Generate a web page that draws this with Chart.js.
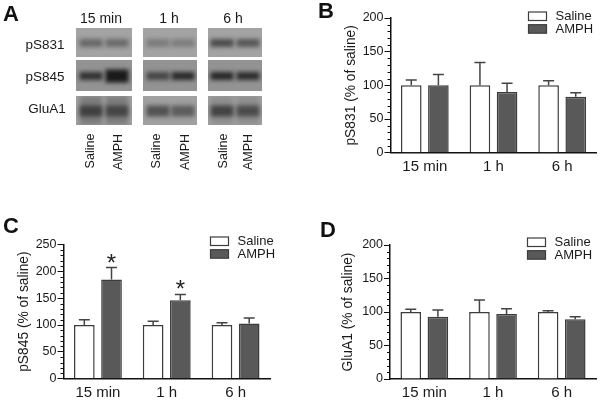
<!DOCTYPE html>
<html>
<head>
<meta charset="utf-8">
<title>GluA1 phosphorylation</title>
<script src="https://cdn.jsdelivr.net/npm/chart.js@4"></script>
<style>
    html, body { margin: 0; padding: 0; background: #fff; }
    #page { position: relative; width: 600px; height: 400px; overflow: hidden; font-family: "Liberation Sans", Arial, sans-serif; color: #1a1a1a; }
    #page canvas { position: absolute; }
    .letter { position: absolute; font-size: 22px; font-weight: bold; color: #111; line-height: 22px; }
    .blot-text { position: absolute; white-space: nowrap; line-height: 14px; transform: translate(-50%, -50%); }
    .lane-text { position: absolute; white-space: nowrap; font-size: 12.5px; line-height: 14px; transform: translate(-50%, -50%) rotate(-90deg); }
</style>
</head>
<body>
<div id="page">
    <canvas id="blots" width="300" height="200" style="left:0;top:0"></canvas>
    <canvas id="chartB" width="300" height="200" style="left:300px;top:0"></canvas>
    <canvas id="chartC" width="300" height="200" style="left:0;top:200px"></canvas>
    <canvas id="chartD" width="300" height="200" style="left:300px;top:200px"></canvas>
</div>
<script>
const categories = ['15 min', '1 h', '6 h'];
const seriesNames = ['Saline', 'AMPH'];

// bar heights and the top of each error bar
const salineB = [100, 100, 100];
const amphB = [100, 90, 83];
const salineTopB = [108, 134, 107];
const amphTopB = [116, 103, 89];

const salineC = [100, 100, 100];
const amphC = [185, 146, 103];
const salineTopC = [110, 107, 104];
const amphTopC = [207, 157, 113];
const starsC = [true, true, false];

const salineD = [100, 100, 100];
const amphD = [93, 97, 89];
const salineTopD = [104, 118, 102];
const amphTopD = [103, 105, 93];

// panel A, the blot
const blotRows = ['pS831', 'pS845', 'GluA1'];
const bandDark = [
    [0.42, 0.40, 0.28, 0.26, 0.62, 0.55],
    [0.80, 1.00, 0.62, 0.85, 0.88, 0.84],
    [0.62, 0.56, 0.58, 0.50, 0.64, 0.58]
];

const axisColor = '#111';
const salineFill = '#ffffff';
const amphFill = '#595959';
const barEdge = '#3c3c3c';

function drawBlots() {
    const ctx = document.getElementById('blots').getContext('2d');
    const panels = [[76, 132, [91, 117]], [143, 197, [158, 183]], [208, 262, [222, 248]]];
    const rows = [
        { top: 28, bottom: 57, band: 43, h: 8, bg: '#a3a3a3' },
        { top: 60, bottom: 91, band: 76, h: 8, bg: '#939393' },
        { top: 96, bottom: 125, band: 111, h: 11, bg: '#a0a0a0' }
    ];
    rows.forEach((row, r) => {
        panels.forEach((panel, p) => {
            ctx.save();
            ctx.beginPath();
            ctx.rect(panel[0], row.top, panel[1] - panel[0], row.bottom - row.top);
            ctx.clip();
            ctx.fillStyle = row.bg;
            ctx.fillRect(panel[0], row.top, panel[1] - panel[0], row.bottom - row.top);
            ctx.filter = 'blur(2px)';
            panel[2].forEach((cx, l) => {
                const dark = bandDark[r][p * 2 + l];
                const h = row.h + (dark > 0.9 ? 5 : 0);
                ctx.fillStyle = 'rgba(25,25,25,' + dark + ')';
                ctx.fillRect(cx - 11.5, row.band - h / 2, 23, h);
                // the GluA1 row smears up and down in the 15 min and 6 h lanes
                if (r === 2 && p !== 1) {
                    ctx.fillStyle = 'rgba(25,25,25,' + (p === 0 ? 0.25 : 0.12) + ')';
                    ctx.fillRect(cx - 11, row.top, 22, row.bottom - row.top);
                }
            });
            ctx.restore();
        });
    });

    const page = document.getElementById('page');
    const rowLabelY = [45, 77, 109];
    blotRows.forEach((name, i) => {
        const el = document.createElement('div');
        el.className = 'blot-text';
        el.style.cssText = 'left:' + (i === 2 ? 47 : 45) + 'px;top:' + rowLabelY[i] + 'px;font-size:13.5px';
        el.textContent = name;
        page.appendChild(el);
    });
    const headX = [101, 169, 233];
    categories.forEach((name, i) => {
        const el = document.createElement('div');
        el.className = 'blot-text';
        el.style.cssText = 'left:' + headX[i] + 'px;top:18px;font-size:14px';
        el.textContent = name;
        page.appendChild(el);
    });
    const laneX = [90, 118, 156, 185, 223, 248];
    laneX.forEach((x, i) => {
        const el = document.createElement('div');
        el.className = 'lane-text';
        el.style.left = x + 'px';
        el.style.top = (i % 2 ? 151.5 : 150.5) + 'px';
        el.textContent = seriesNames[i % 2];
        page.appendChild(el);
    });
    const letters = [['A', 3, 3], ['B', 318, 0], ['C', 3, 215], ['D', 320, 219]];
    letters.forEach(l => {
        const el = document.createElement('div');
        el.className = 'letter';
        el.style.left = l[1] + 'px';
        el.style.top = l[2] + 'px';
        el.textContent = l[0];
        page.appendChild(el);
    });
}

// error bars, minor ticks, significance stars and the legend
const panelExtras = {
    id: 'panelExtras',
    afterDatasetsDraw(chart, args, opts) {
        const ctx = chart.ctx;
        const y = chart.scales.y;
        ctx.save();

        ctx.strokeStyle = '#444';
        ctx.lineWidth = 1.5;
        opts.tops.forEach((tops, d) => {
            const bars = chart.getDatasetMeta(d).data;
            tops.forEach((top, i) => {
                const x = bars[i].x;
                const py = y.getPixelForValue(top);
                ctx.beginPath();
                ctx.moveTo(x, bars[i].y);
                ctx.lineTo(x, py);
                ctx.moveTo(x - 5.5, py);
                ctx.lineTo(x + 5.5, py);
                ctx.stroke();
            });
        });

        ctx.strokeStyle = axisColor;
        ctx.lineWidth = 1;
        for (let v = 0; v <= y.max; v += 10) {
            if (v % 50 === 0) continue;
            const py = Math.round(y.getPixelForValue(v)) + 0.5;
            ctx.beginPath();
            ctx.moveTo(y.right - 3, py);
            ctx.lineTo(y.right, py);
            ctx.stroke();
        }

        if (opts.stars) {
            ctx.fillStyle = '#222';
            ctx.font = '24px "Liberation Sans", Arial, sans-serif';
            ctx.textAlign = 'center';
            ctx.textBaseline = 'alphabetic';
            const bars = chart.getDatasetMeta(1).data;
            opts.stars.forEach((on, i) => {
                if (on) ctx.fillText('*', bars[i].x, y.getPixelForValue(opts.tops[1][i]) + 3);
            });
        }

        ctx.font = '13px "Liberation Sans", Arial, sans-serif';
        ctx.textAlign = 'left';
        ctx.textBaseline = 'middle';
        seriesNames.forEach((name, i) => {
            const top = opts.legendY + i * 12.7;
            ctx.fillStyle = i === 0 ? salineFill : amphFill;
            ctx.strokeStyle = barEdge;
            ctx.lineWidth = 1.2;
            ctx.fillRect(opts.legendX, top, 18, 8.5);
            ctx.strokeRect(opts.legendX, top, 18, 8.5);
            ctx.fillStyle = '#1a1a1a';
            ctx.fillText(name, opts.legendX + 27, top + 4.5);
        });
        ctx.restore();
    }
};

function makePanel(id, saline, amph, tops, cfg) {
    new Chart(document.getElementById(id), {
        type: 'bar',
        data: {
            labels: categories,
            datasets: [
                { label: seriesNames[0], data: saline, backgroundColor: salineFill, borderColor: barEdge, borderWidth: 1.5 },
                { label: seriesNames[1], data: amph, backgroundColor: amphFill, borderColor: barEdge, borderWidth: 1.5 }
            ]
        },
        options: {
            responsive: false,
            animation: false,
            layout: { padding: { left: cfg.titleLeft, top: cfg.top, right: cfg.right, bottom: 0 } },
            datasets: { bar: { categoryPercentage: 0.79, barPercentage: 0.76 } },
            scales: {
                x: {
                    grid: { display: false, drawTicks: false },
                    border: { color: axisColor, width: 1.5 },
                    ticks: { color: '#1a1a1a', font: { family: '"Liberation Sans"', size: 15 }, padding: 5, maxRotation: 0, autoSkip: false },
                    afterFit(scale) { scale.height = 200 - cfg.bottom; }
                },
                y: {
                    min: 0,
                    max: cfg.max,
                    grid: { drawOnChartArea: false, tickLength: 6, tickColor: axisColor, tickWidth: 1 },
                    border: { color: axisColor, width: 1.5 },
                    ticks: { stepSize: 50, color: '#1a1a1a', font: { family: '"Liberation Sans"', size: 12.5 }, padding: 1 },
                    title: { display: true, text: cfg.title, color: '#1a1a1a', font: { family: '"Liberation Sans"', size: 13.8 }, padding: 0 },
                    afterFit(scale) { scale.width = cfg.left - cfg.titleLeft; }
                }
            },
            plugins: {
                legend: { display: false },
                tooltip: { enabled: false },
                panelExtras: { tops: tops, stars: cfg.stars, legendX: cfg.legendX, legendY: cfg.legendY }
            }
        },
        plugins: [panelExtras]
    });
}

drawBlots();
makePanel('chartB', salineB, amphB, [salineTopB, amphTopB], {
    title: 'pS831 (% of saline)', max: 200, left: 90.5, titleLeft: 43, top: 18, bottom: 152.7, right: 3.5, legendX: 228.5, legendY: 12
});
makePanel('chartC', salineC, amphC, [salineTopC, amphTopC], {
    title: 'pS845 (% of saline)', max: 250, left: 63.5, titleLeft: 16, top: 44.5, bottom: 178.7, right: 30, legendX: 210.5, legendY: 37, stars: starsC
});
makePanel('chartD', salineD, amphD, [salineTopD, amphTopD], {
    title: 'GluA1 (% of saline)', max: 200, left: 90, titleLeft: 40, top: 45, bottom: 179, right: 4, legendX: 227.5, legendY: 38
});
</script>
</body>
</html>
